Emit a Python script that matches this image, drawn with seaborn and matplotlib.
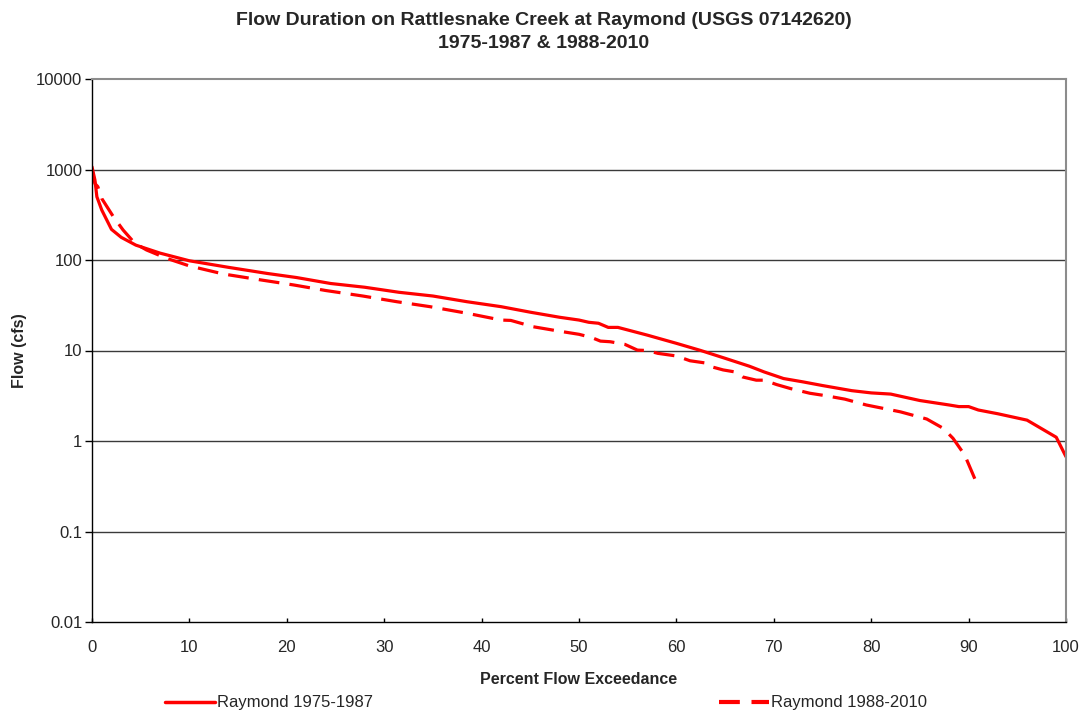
import matplotlib
matplotlib.use("Agg")
import matplotlib.pyplot as plt
import seaborn as sns
import pandas as pd
from matplotlib.ticker import FixedLocator, FixedFormatter, NullLocator
from matplotlib.lines import Line2D

# ---- data ----
pct_1975 = [0, 0.3, 0.5, 1, 2, 3, 4.5, 7, 10, 14, 18, 21, 24.5, 28, 31.5, 35, 38.5,
            42, 45, 48, 50, 51, 52, 53, 54, 57, 60, 62.5, 65, 67.5, 69, 71, 73, 75,
            78, 80, 82, 85, 88, 89, 90, 91, 93, 96, 99, 100]
flow_1975 = [1070, 765, 500, 357, 218, 178, 146, 119, 98, 83, 71, 64, 55, 50, 44, 40,
             34.6, 30.5, 26.5, 23.3, 21.7, 20.5, 20, 18, 18, 14.8, 12, 10, 8.2, 6.7,
             5.8, 4.9, 4.5, 4.1, 3.6, 3.4, 3.3, 2.8, 2.5, 2.4, 2.4, 2.2, 2.0, 1.7,
             1.1, 0.67]

pct_1988 = [0, 0.3, 0.6, 1, 2.2, 3.2, 4.4, 5.6, 7.7, 10, 13.5, 17, 20.7, 24, 27.8,
            31.3, 34.7, 38.5, 42, 43, 45.3, 47.9, 50, 51.3, 52.2, 53.2, 54.7, 56, 57,
            58.1, 60, 61.4, 62.9, 63.4, 64.8, 66, 66.8, 68.2, 69, 70.3, 71.7, 73.7,
            75.3, 77.3, 79.5, 83, 85.7, 87.4, 88.4, 89.6, 91]
flow_1988 = [1000, 700, 646, 478, 300, 214, 153, 129, 104, 86, 70, 61, 53, 46, 40,
             34.6, 30.5, 25.8, 21.7, 21.5, 18.3, 16.4, 15.1, 13.9, 12.7, 12.5, 11.7,
             10.1, 10, 9.3, 8.7, 7.7, 7.3, 6.7, 6.1, 5.8, 5.1, 4.7, 4.7, 4.2, 3.8,
             3.37, 3.17, 2.9, 2.5, 2.1, 1.75, 1.38, 1.07, 0.7, 0.31]

series_names = ["Raymond 1975-1987", "Raymond 1988-2010"]
y_ticks = [0.01, 0.1, 1, 10, 100, 1000, 10000]
y_tick_labels = ["0.01", "0.1", "1", "10", "100", "1000", "10000"]
x_ticks = [0, 10, 20, 30, 40, 50, 60, 70, 80, 90, 100]

title = "Flow Duration on Rattlesnake Creek at Raymond (USGS 07142620)\n1975-1987 & 1988-2010"

df = pd.concat([
    pd.DataFrame({"pct": pct_1975, "flow": flow_1975, "series": series_names[0]}),
    pd.DataFrame({"pct": pct_1988, "flow": flow_1988, "series": series_names[1]}),
], ignore_index=True)

sns.set_style("white")
plt.rcParams["font.family"] = ["Liberation Sans", "DejaVu Sans"]

fig = plt.figure(figsize=(10.86, 7.12), dpi=100)
ax = fig.add_axes([92 / 1086, 1 - 622 / 712, (1066 - 92) / 1086, (622 - 79) / 712])

sns.lineplot(data=df, x="pct", y="flow", hue="series", style="series",
             palette=["#ff0000", "#ff0000"],
             dashes={series_names[0]: "", series_names[1]: (6.5, 3.2)},
             linewidth=2.3, sort=False, estimator=None, ax=ax, legend=False)

ax.set_yscale("log")
ax.set_ylim(0.01, 10000)
ax.set_xlim(0, 100)
ax.yaxis.set_major_locator(FixedLocator(y_ticks))
ax.yaxis.set_major_formatter(FixedFormatter(y_tick_labels))
ax.yaxis.set_minor_locator(NullLocator())
ax.set_xticks(x_ticks)
ax.set_xticklabels([str(v) for v in x_ticks])

for v in y_ticks[1:-1]:
    ax.axhline(v, color="#3a3a3a", lw=1.0, zorder=0.5)

for s in ["left", "bottom"]:
    ax.spines[s].set_color("black")
    ax.spines[s].set_linewidth(1.0)
for s in ["right", "top"]:
    ax.spines[s].set_color("#8c8c8c")
    ax.spines[s].set_linewidth(1.5)

ax.tick_params(axis="y", which="major", direction="out", length=5, width=1,
               color="black", labelsize=12, left=True, pad=2)
ax.tick_params(axis="x", which="major", direction="in", length=3, width=1,
               color="black", labelsize=12, bottom=True, pad=13)

ax.set_xlabel("Percent Flow Exceedance", fontsize=11.5, fontweight="bold")
ax.xaxis.set_label_coords(0.5, (622 - 672) / 543)
ax.set_ylabel("Flow (cfs)", fontsize=11.5, fontweight="bold")
ax.yaxis.set_label_coords((27 - 92) / 974, 0.5)

fig.text(0.5 + (544 - 543) / 1086, 1 - 32 / 712, title, fontsize=14, fontweight="bold",
         ha="center", va="center", linespacing=1.45)

handles = [Line2D([], [], color="#ff0000", lw=2.5),
           Line2D([], [], color="#ff0000", lw=3, dashes=(5, 2.8))]
fig.legend(handles, series_names, loc="lower left", ncol=2, mode="expand",
           bbox_to_anchor=(163 / 1086, 0.0, (929 - 163) / 1086, 0.03),
           frameon=False, fontsize=12, handlelength=3.0, handletextpad=0.15,
           borderaxespad=0.0, borderpad=0.1)

fig.savefig("out.png", dpi=100)
